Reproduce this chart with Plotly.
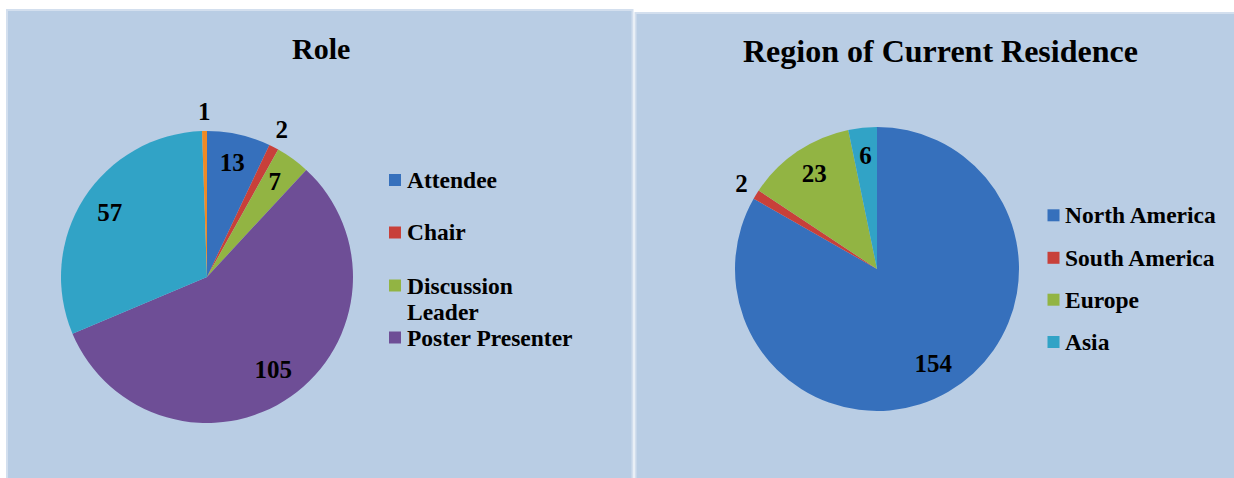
import textwrap
import plotly.graph_objects as go

# ---------------- data ----------------
role_title = "Role"
role_labels = ["Attendee", "Chair", "Discussion Leader", "Poster Presenter", "Speaker", "Other"]
role_values = [13, 2, 7, 105, 57, 1]
role_legend_count = 4  # only the first four entries are visible in the legend

region_title = "Region of Current Residence"
region_labels = ["North America", "South America", "Europe", "Asia"]
region_values = [154, 2, 23, 6]
region_legend_count = 4

# ---------------- styles ----------------
W, H = 1234, 478
FONT = "Liberation Serif, Times New Roman, serif"
PANEL_FILL = "#B9CDE4"
PANEL_EDGE = "#D3DFEE"
role_colors = ["#3670BC", "#C8403A", "#92B443", "#6E4E96", "#31A3C6", "#F08A24"]
region_colors = ["#3670BC", "#C8403A", "#92B443", "#31A3C6"]
INSIDE_R = 0.79
OUTSIDE_R = 1.12
SMALL_SHARE = 0.02
RMAX = 1.25  # radial axis extent (pie radius = 1)


def fx(px):
    return px / W


def fy(py):
    return 1 - py / H


fig = go.Figure()


def add_pie(subplot, labels, values, colors):
    total = sum(values)
    cum = 0
    thetas, widths = [], []
    for v in values:
        widths.append(v / total * 360)
        thetas.append((cum + v / 2) / total * 360)
        cum += v
    for lab, val, th, wd, col in zip(labels, values, thetas, widths, colors):
        fig.add_trace(go.Barpolar(
            r=[1], theta=[th], width=[wd], name=lab, subplot=subplot,
            marker=dict(color=col, line=dict(width=0)), showlegend=False,
            customdata=[val], hovertemplate=f"{lab}: %{{customdata}}<extra></extra>",
        ))
    r_text = [OUTSIDE_R if v / total < SMALL_SHARE else INSIDE_R for v in values]
    fig.add_trace(go.Scatterpolar(
        r=r_text, theta=thetas, mode="text", text=[str(v) for v in values],
        textposition="middle center", subplot=subplot, cliponaxis=False,
        textfont=dict(family=FONT, size=25, color="black", weight="bold"),
        showlegend=False, hoverinfo="skip",
    ))


add_pie("polar", role_labels, role_values, role_colors)
add_pie("polar2", region_labels, region_values, region_colors)


def polar_layout(cx, cy, radius):
    hidden = dict(visible=False, showgrid=False, showline=False, showticklabels=False, ticks="")
    ext = radius * RMAX
    return dict(
        domain=dict(x=[fx(cx - ext), fx(cx + ext)], y=[fy(cy + ext), fy(cy - ext)]),
        bgcolor="rgba(0,0,0,0)", bargap=0, hole=0,
        radialaxis=dict(range=[0, RMAX], **hidden),
        angularaxis=dict(rotation=90, direction="clockwise", **hidden),
    )


shapes = [
    dict(type="rect", xref="paper", yref="paper", x0=fx(7), x1=fx(632.5), y0=fy(482), y1=fy(10),
         fillcolor=PANEL_FILL, line=dict(color=PANEL_EDGE, width=2), layer="below"),
    dict(type="rect", xref="paper", yref="paper", x0=fx(635.5), x1=fx(1238), y0=fy(482), y1=fy(13),
         fillcolor=PANEL_FILL, line=dict(color=PANEL_EDGE, width=2), layer="below"),
]

annotations = [
    dict(text=f"<b>{role_title}</b>", x=fx(320.5), y=fy(48.5), xref="paper", yref="paper",
         xanchor="center", yanchor="middle", showarrow=False,
         font=dict(family=FONT, size=30, color="black")),
    dict(text=f"<b>{region_title}</b>", x=fx(940.5), y=fy(51.5), xref="paper", yref="paper",
         xanchor="center", yanchor="middle", showarrow=False,
         font=dict(family=FONT, size=32, color="black")),
]


def add_legend(labels, colors, count, sq_x, text_x, rows, line_step, wrap):
    for lab, col, row_y in zip(labels[:count], colors[:count], rows):
        shapes.append(dict(type="rect", xref="paper", yref="paper",
                           x0=fx(sq_x), x1=fx(sq_x + 12), y0=fy(row_y + 6), y1=fy(row_y - 6),
                           fillcolor=col, line=dict(width=0)))
        for i, line in enumerate(textwrap.wrap(lab, wrap)):
            annotations.append(dict(text=f"<b>{line}</b>", x=fx(text_x), y=fy(row_y + i * line_step),
                                    xref="paper", yref="paper", xanchor="left", yanchor="middle",
                                    showarrow=False, borderpad=0,
                                    font=dict(family=FONT, size=23.5, color="black")))


add_legend(role_labels, role_colors, role_legend_count, 389, 406,
           [180, 232.5, 285.5, 337.5], 26.5, 16)
add_legend(region_labels, region_colors, region_legend_count, 1047.5, 1064,
           [215.3, 257.8, 299.7, 342], 26.5, 20)

fig.update_layout(
    width=W, height=H, autosize=False,
    margin=dict(l=0, r=0, t=0, b=0, pad=0),
    paper_bgcolor="white", plot_bgcolor="white",
    polar=polar_layout(207, 277, 146),
    polar2=polar_layout(877, 269, 142),
    shapes=shapes, annotations=annotations,
    showlegend=False,
)

fig.write_html(
    "out.html",
    config={"displayModeBar": False},
    post_script="document.body.style.margin='0';document.body.style.padding='0';document.body.style.overflow='hidden';",
)
